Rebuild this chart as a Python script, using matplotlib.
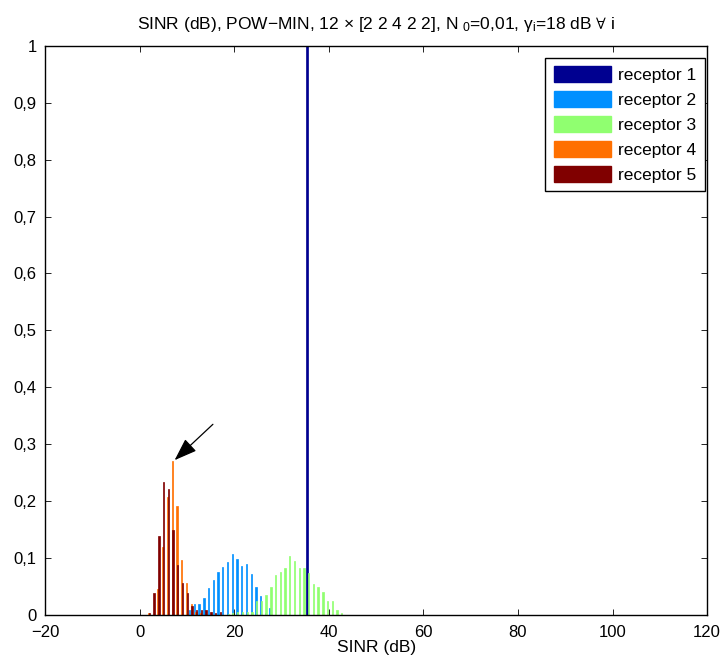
import numpy as np
import matplotlib
matplotlib.use("Agg")
import matplotlib.pyplot as plt
from matplotlib.patches import Patch

plt.rcParams['font.family'] = ['Liberation Sans', 'DejaVu Sans']
plt.rcParams['mathtext.fontset'] = 'custom'
plt.rcParams['mathtext.rm'] = 'Liberation Sans'
plt.rcParams['mathtext.it'] = 'Liberation Sans'
plt.rcParams['mathtext.default'] = 'regular'

# histogram bin centres (dB)
bins = np.arange(-0.25, 110, 1.0)

labels = ['receptor 1', 'receptor 2', 'receptor 3', 'receptor 4', 'receptor 5']
colors = ['#000090', '#0090ff', '#90ff70', '#ff7000', '#800000']

# relative frequencies per receptor: first bin centre + values
r1_start = 35.75
r1_vals = [1.0]
r2_start = 10.75
r2_vals = [0.009, 0.019, 0.020, 0.029, 0.047, 0.062, 0.076, 0.085, 0.093, 0.108,
           0.098, 0.086, 0.090, 0.072, 0.049, 0.033, 0.004, 0.012]
r3_start = 18.75
r3_vals = [0.002, 0.004, 0.006, 0.005, 0.006, 0.006, 0.025, 0.025, 0.035, 0.049,
           0.070, 0.076, 0.082, 0.104, 0.094, 0.082, 0.082, 0.074, 0.055, 0.049,
           0.041, 0.025, 0.025, 0.009, 0.004]
r4_start = 1.75
r4_vals = [0.003, 0.0, 0.045, 0.119, 0.208, 0.271, 0.192, 0.097, 0.056, 0.020,
           0.005, 0.003]
r5_start = 1.75
r5_vals = [0.003, 0.039, 0.138, 0.234, 0.221, 0.149, 0.088, 0.056, 0.039, 0.016,
           0.009, 0.008, 0.009, 0.006, 0.003, 0.005]

# arrow annotation (tail -> tip)
arrow_tail = (15.5, 0.335)
arrow_tip = (7.4, 0.272)


def full_hist(start, vals):
    h = np.zeros(len(bins))
    i0 = int(np.argmin(np.abs(bins - start)))
    h[i0:i0 + len(vals)] = vals
    return h


series = [full_hist(r1_start, r1_vals), full_hist(r2_start, r2_vals),
          full_hist(r3_start, r3_vals), full_hist(r4_start, r4_vals),
          full_hist(r5_start, r5_vals)]

fig = plt.figure(figsize=(7.26, 6.65), dpi=100)
ax = fig.add_axes([0.062, 0.0752, 0.912, 0.856])

n = len(series)
step = 0.16
for i, (h, c) in enumerate(zip(series, colors)):
    off = (i - (n - 1) / 2) * step
    ax.bar(bins + off, h, width=0.28, color=c, edgecolor=c, linewidth=0.5)

ax.annotate('', xy=arrow_tip, xytext=arrow_tail,
            arrowprops=dict(arrowstyle='-|>,head_length=1.4,head_width=0.5',
                            color='k', lw=0.9, shrinkA=0, shrinkB=0))

ax.set_xlim(-20, 120)
ax.set_ylim(0, 1)
ax.set_xticks(np.arange(-20, 121, 20))
yt = np.round(np.arange(0, 1.01, 0.1), 1)
ax.set_yticks(yt)
ax.set_yticklabels(['0' if v == 0 else '1' if v == 1 else ('%.1f' % v).replace('.', ',') for v in yt])
ax.tick_params(direction='in', top=True, right=True, labelsize=12, length=4, width=0.6)
ax.tick_params(axis='x', pad=7)
ax.tick_params(axis='y', pad=6)
for s in ax.spines.values():
    s.set_linewidth(1.0)

ax.set_xlabel('SINR (dB)', fontsize=12.5, labelpad=0)
ax.set_title(r'SINR (dB), POW$-$MIN, 12 $\times$ [2 2 4 2 2], N $_0$=0,01, $\gamma_i$=18 dB $\forall$ i',
             fontsize=12.5, pad=12)

handles = [Patch(facecolor=c, edgecolor=c) for c in colors]
ax.legend(handles, labels, loc='upper right', bbox_to_anchor=(0.997, 0.979),
          fontsize=12.5, handlelength=3.3, handleheight=1.05, labelspacing=0.45,
          handletextpad=0.4, borderpad=0.5, fancybox=False, framealpha=1,
          edgecolor='k', borderaxespad=0)

fig.savefig('out.png', dpi=100)
